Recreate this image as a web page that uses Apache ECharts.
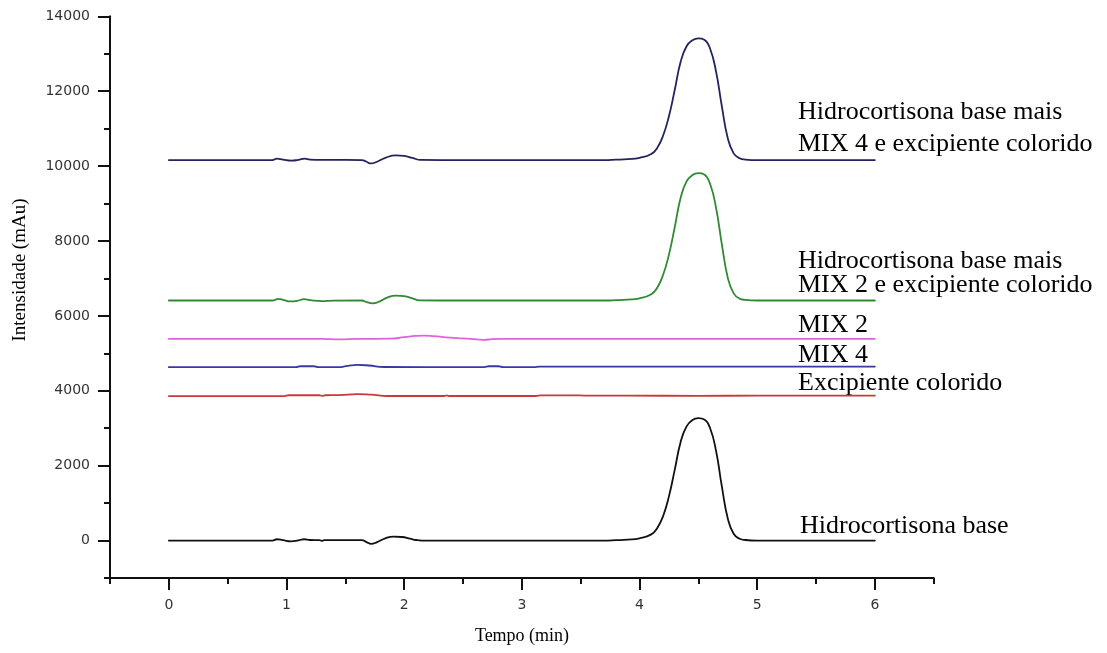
<!DOCTYPE html>
<html>
<head>
<meta charset="utf-8">
<title>Cromatogramas</title>
<script src="https://cdn.jsdelivr.net/npm/echarts@6/dist/echarts.min.js"></script>
<style>
  html, body { margin: 0; padding: 0; background: #ffffff; }
  #chart { width: 1107px; height: 653px; }
</style>
</head>
<body>
<div id="chart"></div>
<script>
// Axis ticks (time in minutes, intensity in mAu)
const tempoTicks = [0, 1, 2, 3, 4, 5, 6];
const tempoMinorTicks = [-0.5, 0.5, 1.5, 2.5, 3.5, 4.5, 5.5, 6.5];
const intensidadeTicks = [0, 2000, 4000, 6000, 8000, 10000, 12000, 14000];
const intensidadeMinorTicks = [-1000, 1000, 3000, 5000, 7000, 9000, 11000, 13000];

// Chromatogram traces: [tempo (min), intensidade (mAu)]
const hidrocortisonaBase = [
  [0, 0], [0.5, 0], [0.88, 0], [0.92, 35], [0.97, 10], [1.04, -20], [1.1, 5], [1.15, 35],
  [1.2, 15], [1.28, 10], [1.3, -10], [1.32, 10], [1.5, 10], [1.64, 10], [1.68, -40],
  [1.72, -90], [1.77, -40], [1.84, 60], [1.91, 105], [1.98, 95], [2.05, 50], [2.1, 15],
  [2.15, 0], [2.5, 0], [3.0, 0], [3.5, 0], [3.7, 0], [3.8, 10], [3.9, 25], [4.0, 60],
  [4.1, 165], [4.15, 330], [4.2, 650], [4.25, 1180], [4.3, 1900], [4.35, 2640], [4.4, 3050],
  [4.45, 3220], [4.5, 3270], [4.55, 3230], [4.6, 3000], [4.65, 2400], [4.7, 1440],
  [4.75, 590], [4.8, 180], [4.85, 50], [4.9, 15], [5.0, 0], [5.5, 0], [6.0, 0]
];

const excipienteColorido = [
  [0, 3858], [0.98, 3858], [1.02, 3880], [1.28, 3880], [1.3, 3865], [1.33, 3880],
  [1.45, 3885], [1.6, 3912], [1.72, 3895], [1.86, 3860], [2.34, 3860], [2.36, 3875],
  [2.38, 3860], [3.12, 3860], [3.16, 3878], [3.5, 3878], [3.55, 3868], [3.9, 3868],
  [4.5, 3865], [5.0, 3868], [6.0, 3868]
];

const mix4 = [
  [0, 4630], [1.08, 4630], [1.12, 4655], [1.23, 4655], [1.27, 4630], [1.44, 4632],
  [1.52, 4665], [1.6, 4690], [1.7, 4675], [1.83, 4635], [2.5, 4630], [2.68, 4632],
  [2.72, 4655], [2.8, 4655], [2.84, 4630], [3.1, 4632], [3.15, 4645], [4.0, 4645],
  [5.0, 4645], [6.0, 4645]
];

const mix2 = [
  [0, 5385], [1.3, 5385], [1.45, 5375], [1.6, 5385], [1.88, 5390], [2.0, 5430],
  [2.1, 5465], [2.17, 5475], [2.25, 5460], [2.39, 5420], [2.5, 5400], [2.62, 5375],
  [2.68, 5360], [2.75, 5380], [2.82, 5385], [4.0, 5385], [5.0, 5385], [6.0, 5385]
];

const hidrocortisonaMix2 = [
  [0, 6410], [0.5, 6410], [0.88, 6410], [0.93, 6455], [0.98, 6420], [1.03, 6385],
  [1.09, 6400], [1.15, 6445], [1.2, 6420], [1.3, 6395], [1.4, 6405], [1.64, 6410],
  [1.68, 6370], [1.73, 6335], [1.78, 6370], [1.85, 6480], [1.93, 6540], [2.0, 6525],
  [2.07, 6470], [2.13, 6415], [2.5, 6410], [3.0, 6410], [3.5, 6410], [3.7, 6410],
  [3.8, 6418], [3.9, 6435], [4.0, 6470], [4.1, 6580], [4.15, 6750], [4.2, 7090],
  [4.25, 7635], [4.3, 8380], [4.35, 9160], [4.4, 9590], [4.45, 9760], [4.5, 9810],
  [4.55, 9775], [4.6, 9520], [4.65, 8890], [4.7, 7905], [4.75, 7020], [4.8, 6600],
  [4.85, 6460], [4.9, 6427], [5.0, 6410], [5.5, 6410], [6.0, 6410]
];

const hidrocortisonaMix4 = [
  [0, 10160], [0.5, 10160], [0.88, 10160], [0.92, 10200], [0.97, 10175], [1.04, 10145],
  [1.1, 10165], [1.155, 10200], [1.2, 10175], [1.3, 10165], [1.5, 10165], [1.64, 10160],
  [1.68, 10115], [1.715, 10070], [1.77, 10115], [1.84, 10220], [1.93, 10285], [2.0, 10270],
  [2.07, 10220], [2.14, 10165], [2.5, 10160], [3.0, 10160], [3.5, 10160], [3.7, 10160],
  [3.8, 10170], [3.9, 10185], [4.0, 10220], [4.1, 10325], [4.15, 10485], [4.2, 10810],
  [4.25, 11330], [4.3, 12045], [4.35, 12790], [4.4, 13200], [4.45, 13360], [4.5, 13410],
  [4.55, 13375], [4.6, 13135], [4.65, 12530], [4.7, 11590], [4.75, 10745], [4.8, 10340],
  [4.85, 10210], [4.9, 10175], [5.0, 10160], [5.5, 10160], [6.0, 10160]
];

const chart = echarts.init(document.getElementById('chart'), null, { renderer: 'canvas' });

const axisInk = '#111111';
const tickFont = { color: '#333333', fontFamily: 'DejaVu Sans', fontSize: 14 };
const serif = 'Liberation Serif';
const plainNumber = function (v) { return String(v); };

function trace(name, data, color) {
  return {
    name: name,
    type: 'line',
    data: data,
    xAxisIndex: 0,
    yAxisIndex: 0,
    symbol: 'none',
    smooth: 0.5,
    sampling: null,
    lineStyle: { color: color, width: 1.8, cap: 'round', join: 'round' },
    emphasis: { disabled: true },
    silent: true
  };
}

function label(text, x, y) {
  return {
    type: 'text',
    x: x,
    y: y,
    silent: true,
    style: {
      text: text,
      fill: '#000000',
      font: '26px "' + serif + '"',
      align: 'left',
      verticalAlign: 'middle'
    }
  };
}

const option = {
  animation: false,
  backgroundColor: '#ffffff',
  grid: {
    left: 110,
    right: 173.3,
    top: 16.3,
    bottom: 75,
    containLabel: false,
    outerBoundsMode: 'none'
  },
  xAxis: [
    {
      type: 'value',
      min: -0.5,
      max: 6.5,
      position: 'bottom',
      splitLine: { show: false },
      axisLine: { show: true, onZero: false, lineStyle: { color: axisInk, width: 2 } },
      axisTick: {
        show: true, inside: false, length: 12, customValues: tempoTicks,
        lineStyle: { color: axisInk, width: 2 }
      },
      axisLabel: { show: true, margin: 20, customValues: tempoTicks, formatter: plainNumber, ...tickFont }
    },
    {
      type: 'value',
      min: -0.5,
      max: 6.5,
      position: 'bottom',
      splitLine: { show: false },
      axisLine: { show: false, onZero: false },
      axisTick: {
        show: true, inside: false, length: 6, customValues: tempoMinorTicks,
        lineStyle: { color: axisInk, width: 2 }
      },
      axisLabel: { show: false }
    }
  ],
  yAxis: [
    {
      type: 'value',
      min: -1000,
      max: 14000,
      position: 'left',
      splitLine: { show: false },
      axisLine: { show: true, onZero: false, lineStyle: { color: axisInk, width: 2 } },
      axisTick: {
        show: true, inside: false, length: 12, customValues: intensidadeTicks,
        lineStyle: { color: axisInk, width: 2 }
      },
      axisLabel: { show: true, margin: 20, customValues: intensidadeTicks, formatter: plainNumber, ...tickFont }
    },
    {
      type: 'value',
      min: -1000,
      max: 14000,
      position: 'left',
      splitLine: { show: false },
      axisLine: { show: false, onZero: false },
      axisTick: {
        show: true, inside: false, length: 6, customValues: intensidadeMinorTicks,
        lineStyle: { color: axisInk, width: 2 }
      },
      axisLabel: { show: false }
    }
  ],
  series: [
    trace('Hidrocortisona base', hidrocortisonaBase, '#111111'),
    trace('Excipiente colorido', excipienteColorido, '#c83a3a'),
    trace('MIX 4', mix4, '#3838a2'),
    trace('MIX 2', mix2, '#e062dc'),
    trace('Hidrocortisona base mais MIX 2 e excipiente colorido', hidrocortisonaMix2, '#2f8a33'),
    trace('Hidrocortisona base mais MIX 4 e excipiente colorido', hidrocortisonaMix4, '#23235f')
  ],
  graphic: [
    {
      type: 'text', x: 20, y: 270, rotation: Math.PI / 2, silent: true,
      style: {
        text: 'Intensidade (mAu)', fill: '#000000',
        font: '19px "' + serif + '"', align: 'center', verticalAlign: 'middle'
      }
    },
    {
      type: 'text', x: 522, y: 636, silent: true,
      style: {
        text: 'Tempo (min)', fill: '#000000',
        font: '18px "' + serif + '"', align: 'center', verticalAlign: 'middle'
      }
    },
    label('Hidrocortisona base mais', 798, 112),
    label('MIX 4 e excipiente colorido', 798, 144),
    label('Hidrocortisona base mais', 798, 261),
    label('MIX 2 e excipiente colorido', 798, 285),
    label('MIX 2', 798, 325),
    label('MIX 4', 798, 355),
    label('Excipiente colorido', 798, 383),
    label('Hidrocortisona base', 800, 526)
  ]
};

chart.setOption(option);
</script>
</body>
</html>
